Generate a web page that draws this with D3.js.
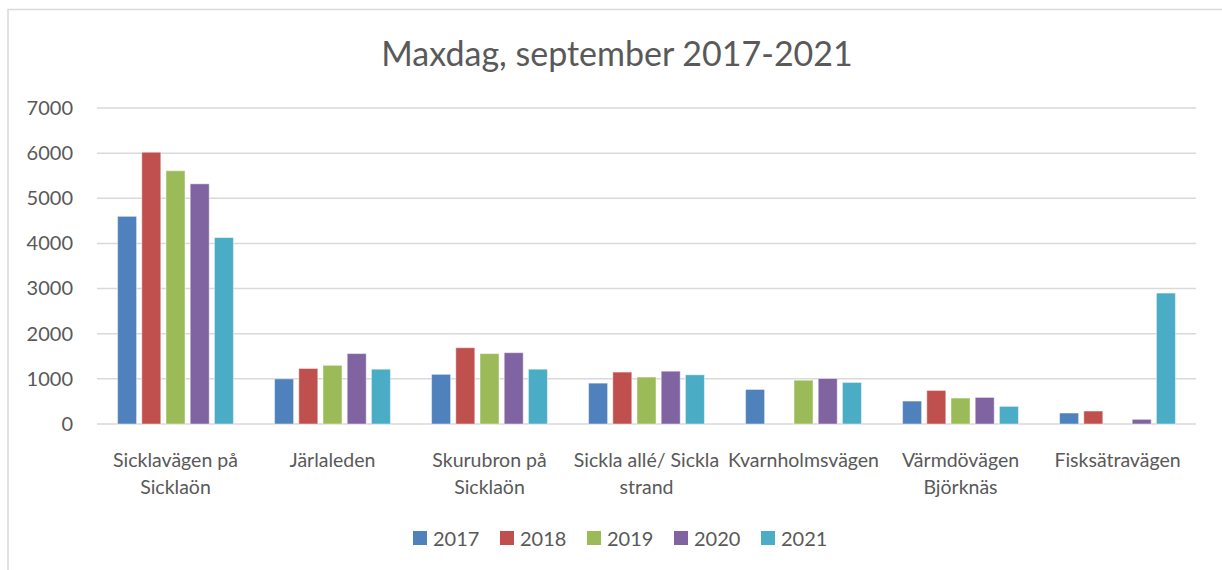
<!DOCTYPE html>
<html>
<head>
<meta charset="utf-8">
<script src="https://cdn.jsdelivr.net/npm/d3@7"></script>
<style>
  html, body { margin: 0; padding: 0; background: #ffffff; }
  svg { display: block; }
  text { font-family: Lato, "Open Sans", sans-serif; fill: #595959; }
</style>
</head>
<body>
<svg id="chart" width="1222" height="570"></svg>
<script>
// ---- data ----
const categories = [
  "Sicklavägen på\nSicklaön",
  "Järlaleden",
  "Skurubron på\nSicklaön",
  "Sickla allé/ Sickla\nstrand",
  "Kvarnholmsvägen",
  "Värmdövägen\nBjörknäs",
  "Fisksätravägen"
];
const years = ["2017", "2018", "2019", "2020", "2021"];
const values2017 = [4600, 1000, 1100, 905, 765, 508, 243];
const values2018 = [6020, 1230, 1690, 1150, null, 743, 287];
const values2019 = [5610, 1300, 1560, 1040, 970, 574, null];
const values2020 = [5320, 1560, 1580, 1170, 1008, 589, 103];
const values2021 = [4130, 1214, 1214, 1090, 920, 390, 2900];
const seriesValues = [values2017, values2018, values2019, values2020, values2021];
const yTicks = [0, 1000, 2000, 3000, 4000, 5000, 6000, 7000];
const colors = ["#4F81BD", "#C0504D", "#9BBB59", "#8064A2", "#4BACC6"];
const title = "Maxdag, september 2017-2021";

// ---- layout ----
const svg = d3.select("#chart");
const W = 1222, H = 570;
const plot = { left: 97, right: 1196, top: 108, bottom: 424 };

// chart border
svg.append("rect")
  .attr("x", 8).attr("y", 9.5)
  .attr("width", W + 10).attr("height", H + 10)
  .attr("fill", "#ffffff")
  .attr("stroke", "#d9d9d9").attr("stroke-width", 1.5);

// title
svg.append("text")
  .attr("x", 617).attr("y", 52)
  .attr("text-anchor", "middle")
  .attr("dominant-baseline", "central")
  .style("font-size", "34px")
  .text(title);

const x0 = d3.scaleBand()
  .domain(d3.range(categories.length))
  .range([plot.left, plot.right])
  .paddingInner(0).paddingOuter(0);

const x1 = d3.scaleBand()
  .domain(years)
  .range([0, x0.bandwidth()])
  .paddingInner(0.215)
  .paddingOuter(0.85);

const y = d3.scaleLinear()
  .domain([0, 7000])
  .range([plot.bottom, plot.top]);

// gridlines
svg.append("g")
  .selectAll("line")
  .data(yTicks)
  .join("line")
  .attr("x1", plot.left).attr("x2", plot.right)
  .attr("y1", d => y(d)).attr("y2", d => y(d))
  .attr("stroke", "#d9d9d9").attr("stroke-width", 1.5);

// y axis labels
const yAxis = d3.axisLeft(y).tickValues(yTicks).tickSize(0).tickPadding(0).tickFormat(d3.format("d"));
const yg = svg.append("g").attr("transform", `translate(73,0)`).call(yAxis);
yg.select(".domain").remove();
yg.selectAll("text")
  .style("font-size", "20px")
  .attr("fill", "#595959")
  .style("font-family", "Lato, 'Open Sans', sans-serif");

// bars
const groups = svg.append("g")
  .selectAll("g")
  .data(categories.map((c, i) => i))
  .join("g")
  .attr("transform", i => `translate(${x0(i)},0)`);

groups.selectAll("rect")
  .data(i => years.map((yr, k) => ({ yr, k, v: seriesValues[k][i] })).filter(d => d.v != null))
  .join("rect")
  .attr("x", d => x1(d.yr))
  .attr("y", d => y(d.v))
  .attr("width", x1.bandwidth())
  .attr("height", d => y(0) - y(d.v))
  .attr("fill", d => colors[d.k])
  .attr("stroke", "#ffffff").attr("stroke-opacity", 0.45).attr("stroke-width", 1);

// category labels
const catG = svg.append("g");
categories.forEach((c, i) => {
  const lines = c.split("\n");
  const t = catG.append("text")
    .attr("x", x0(i) + x0.bandwidth() / 2)
    .attr("y", 467)
    .attr("text-anchor", "middle")
    .style("font-size", "19.5px");
  lines.forEach((ln, j) => {
    t.append("tspan")
      .attr("x", x0(i) + x0.bandwidth() / 2)
      .attr("dy", j === 0 ? 0 : 27)
      .text(ln);
  });
});

// legend
const legStep = 87;
const legStart = 413;
const leg = svg.append("g")
  .selectAll("g")
  .data(years)
  .join("g")
  .attr("transform", (d, k) => `translate(${legStart + k * legStep},538)`);
leg.append("rect")
  .attr("x", 0).attr("y", -7)
  .attr("width", 14).attr("height", 14)
  .attr("fill", (d, k) => colors[k]);
leg.append("text")
  .attr("x", 20).attr("y", 0)
  .attr("dominant-baseline", "central")
  .style("font-size", "20px")
  .text(d => d);
</script>
</body>
</html>
